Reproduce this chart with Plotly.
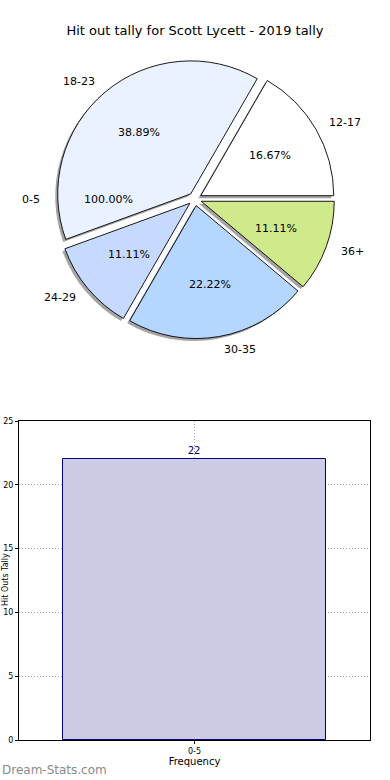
import math
import plotly.graph_objects as go

# ---------------- data ----------------
chart_title = "Hit out tally for Scott Lycett - 2019 tally"

base_labels = ["0-5"]
base_values = [22]

pie_labels = ["12-17", "18-23", "24-29", "30-35", "36+"]
pie_values = [3, 7, 2, 4, 2]
pie_colors = ["#FFFFFF", "#EAF1FF", "#C6D9FF", "#B5D6FF", "#CFEA8B"]

bar_categories = ["0-5"]
bar_values = [22]
y_ticks = [0, 5, 10, 15, 20, 25]

# ---------------- geometry helpers ----------------
W, H = 390, 780
cx, cy = 195, 199          # pie centre in px
R = 133                    # pie radius in px
PULL = 0.05
FONT = "DejaVu Sans, Verdana, sans-serif"

# plotly's counterclockwise pies put the END of the first slice at `rotation`;
# we want the first slice to START at 3 o'clock, as matplotlib does.
first_frac = pie_values[0] / sum(pie_values)
ROT = 90 - 360 * first_frac


def domain(dx=0.0, dy=0.0):
    half = R * (1 + PULL)
    return dict(
        x=[(cx + dx - half) / W, (cx + dx + half) / W],
        y=[1 - (cy + dy + half) / H, 1 - (cy + dy - half) / H],
    )


def to_paper(px, py):
    return px / W, 1 - py / H


fig = go.Figure()

# shadow
fig.add_trace(go.Pie(
    labels=pie_labels, values=pie_values, sort=False, direction="counterclockwise",
    rotation=ROT, pull=[PULL] * len(pie_values), textinfo="none", hoverinfo="skip",
    marker=dict(colors=["rgba(90,90,90,0.55)"] * len(pie_values), line=dict(width=0)),
    domain=domain(-2.5, 2.5), showlegend=False,
))
# main pie
fig.add_trace(go.Pie(
    labels=pie_labels, values=pie_values, sort=False, direction="counterclockwise",
    rotation=ROT, pull=[PULL] * len(pie_values), textinfo="none",
    marker=dict(colors=pie_colors, line=dict(color="#000000", width=0.9)),
    domain=domain(), showlegend=False,
))

annotations = []


def add_pie_texts(labels, values):
    total = sum(values)
    start = 0.0
    for lab, v in zip(labels, values):
        frac = v / total
        mid = math.radians((start + frac / 2) * 360)
        start += frac
        c, s = math.cos(mid), math.sin(mid)
        lx, ly = to_paper(cx + (1.1 + PULL) * R * c, cy - (1.1 + PULL) * R * s)
        annotations.append(dict(
            x=lx, y=ly, xref="paper", yref="paper", text=lab, showarrow=False,
            xanchor="left" if c > 1e-9 else "right", yanchor="middle",
            font=dict(family=FONT, size=11, color="#000000"),
        ))
        px_, py_ = to_paper(cx + (0.6 + PULL) * R * c, cy - (0.6 + PULL) * R * s)
        annotations.append(dict(
            x=px_, y=py_, xref="paper", yref="paper", text=f"{frac * 100:.2f}%",
            showarrow=False, xanchor="center", yanchor="middle",
            font=dict(family=FONT, size=11, color="#000000"),
        ))


add_pie_texts(base_labels, base_values)
add_pie_texts(pie_labels, pie_values)

# ---------------- bar chart ----------------
fig.add_trace(go.Bar(
    x=bar_categories, y=bar_values, width=0.8,
    marker=dict(color="#CCCCE6", line=dict(color="#000080", width=1)),
    text=[str(v) for v in bar_values], textposition="outside",
    textfont=dict(family=FONT, size=10, color="#000080"),
    cliponaxis=False, xaxis="x", yaxis="y", showlegend=False, hoverinfo="skip",
))

annotations.append(dict(
    x=5 / W, y=1 - 580 / H, xref="paper", yref="paper", text="Hit Outs Tally",
    textangle=-90, showarrow=False, xanchor="center", yanchor="middle",
    font=dict(family=FONT, size=8, color="#000000"),
))
annotations.append(dict(
    x=0, y=1 - 770 / H, xref="paper", yref="paper", text="Dream-Stats.com",
    showarrow=False, xanchor="left", yanchor="middle",
    font=dict(family=FONT, size=12, color="#8a8a8a"),
))

axis_common = dict(
    showline=True, linecolor="#000000", linewidth=1, mirror=True,
    ticks="outside", ticklen=3, tickcolor="#000000",
    showgrid=True, gridcolor="#a0a0a0", griddash="1px,2px", gridwidth=1,
    zeroline=False, automargin=False,
    tickfont=dict(family=FONT, size=8, color="#000000"),
)

fig.update_layout(
    width=W, height=H, margin=dict(l=0, r=0, t=0, b=0, autoexpand=False),
    paper_bgcolor="#FFFFFF", plot_bgcolor="#FFFFFF",
    title=dict(text=chart_title, x=0.5, xanchor="center", y=1 - 30 / H, yanchor="middle",
               font=dict(family=FONT, size=13, color="#000000")),
    xaxis=dict(domain=[19 / W, 370 / W], type="category", range=[-0.532, 0.532],
               title=dict(text="Frequency", font=dict(family=FONT, size=10, color="#000000"), standoff=2),
               anchor="y", **axis_common),
    yaxis=dict(domain=[1 - 740 / H, 1 - 421 / H], range=[0, 25], tickvals=y_ticks,
               anchor="x", **axis_common),
    annotations=annotations,
    bargap=0,
)

fig.write_html(
    "out.html",
    config={"displayModeBar": False},
    post_script="document.body.style.margin='0';document.body.style.overflow='hidden';",
)
